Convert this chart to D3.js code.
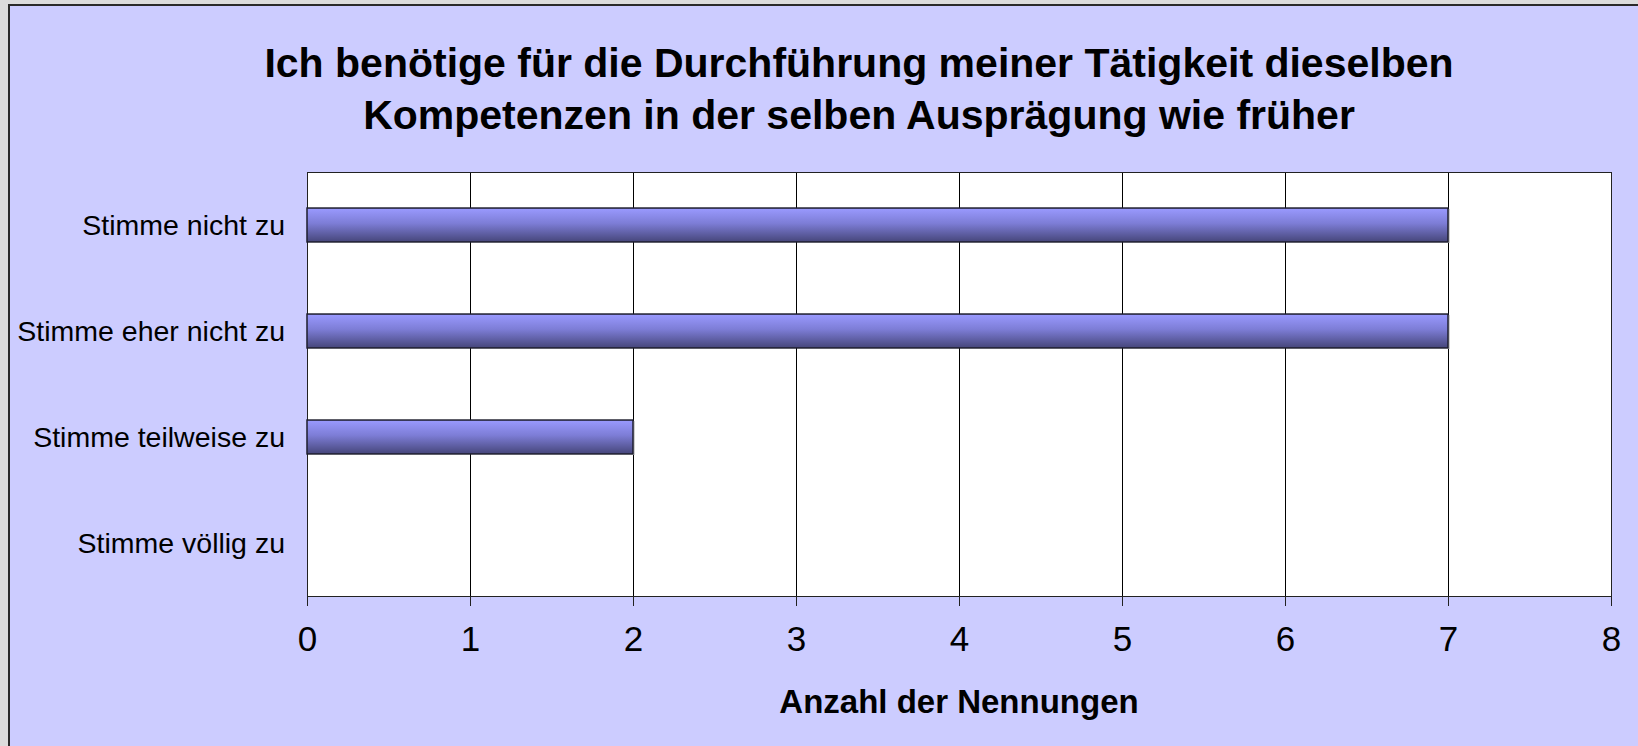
<!DOCTYPE html>
<html>
<head>
<meta charset="utf-8">
<script src="https://cdn.jsdelivr.net/npm/d3@7"></script>
<style>
  html, body { margin: 0; padding: 0; background: #dcdcdc; }
  svg { display: block; }
</style>
</head>
<body>
<div id="bars-placeholder"></div>
<script>
'use strict'

// data
const categories = ["Stimme nicht zu", "Stimme eher nicht zu", "Stimme teilweise zu", "Stimme völlig zu"]
const counts = [7, 7, 2, 0]
const xTicks = [0, 1, 2, 3, 4, 5, 6, 7, 8]
const titleLines = ["Ich benötige für die Durchführung meiner Tätigkeit dieselben",
                    "Kompetenzen in der selben Ausprägung wie früher"]
const xLabel = "Anzahl der Nennungen"

let bars = ((selector = '#bars-placeholder') => {

    ////////////////////////////////////
    //////////// svg setup /////////////
    ////////////////////////////////////

    var svgWidth = 1638
    var svgHeight = 746

    var margin = {
        left: 307,
        right: 27,
        top: 172,
        bottom: 150
    }

    const width = svgWidth - margin.left - margin.right
    const height = svgHeight - margin.top - margin.bottom

    var body = d3.select(selector)
    body.html("")

    const root = body.append('svg')
        .attr('width', svgWidth)
        .attr('height', svgHeight)
        .style('font-family', 'Arial, "Liberation Sans", sans-serif')

    // grey page behind the chart panel
    root.append('rect')
        .attr('width', svgWidth)
        .attr('height', svgHeight)
        .attr('fill', '#dcdcdc')

    // lavender chart panel
    root.append('rect')
        .attr('x', 9)
        .attr('y', 5)
        .attr('width', svgWidth + 20)
        .attr('height', svgHeight + 20)
        .attr('fill', '#ccccff')
        .attr('stroke', '#2a2a2a')
        .attr('stroke-width', 2)

    // bar gradient
    const grad = root.append('defs')
        .append('linearGradient')
        .attr('id', 'bar-grad')
        .attr('x1', 0).attr('y1', 0)
        .attr('x2', 0).attr('y2', 1)

    grad.append('stop').attr('offset', '0%').attr('stop-color', '#9a9aff')
    grad.append('stop').attr('offset', '45%').attr('stop-color', '#7d7dd6')
    grad.append('stop').attr('offset', '100%').attr('stop-color', '#46467a')

    const svg = root.append('g')
        .attr('transform', "translate(" + margin.left + "," + margin.top + ")")

    ////////////////////////////////////
    //////////////scales////////////////
    ////////////////////////////////////

    var xScale = d3.scaleLinear()
        .domain([0, 8])
        .range([0, width])

    var yScale = d3.scaleBand()
        .domain(categories)
        .range([0, height])
        .paddingInner(0.68)
        .paddingOuter(0.34)

    // plot background
    svg.append('rect')
        .attr('width', width)
        .attr('height', height)
        .attr('fill', '#ffffff')

    // vertical grid lines
    svg.append('g')
        .attr('id', 'grid')
        .selectAll('line')
        .data(xTicks.slice(1, -1))
        .enter()
        .append('line')
        .attr('x1', d => Math.round(xScale(d)) + 0.5)
        .attr('x2', d => Math.round(xScale(d)) + 0.5)
        .attr('y1', 0)
        .attr('y2', height)
        .attr('stroke', '#000')
        .attr('stroke-width', 1)

    // plot frame
    svg.append('rect')
        .attr('x', 0.5)
        .attr('y', 0.5)
        .attr('width', width)
        .attr('height', height)
        .attr('fill', 'none')
        .attr('stroke', '#222')
        .attr('stroke-width', 1)

    // bars
    var barGroup = svg.selectAll('.bars')
        .data(counts.map((v, i) => ({category: categories[i], value: v})).filter(d => d.value > 0))
        .enter()
        .append('g')
        .attr('class', 'bars')

    barGroup.append('rect')
        .attr('x', d => xScale(d.value))
        .attr('y', d => yScale(d.category) + 1)
        .attr('width', 2)
        .attr('height', yScale.bandwidth())
        .attr('fill', '#cfcfcf')

    barGroup.append('rect')
        .attr('x', 0)
        .attr('y', d => yScale(d.category))
        .attr('width', d => xScale(d.value))
        .attr('height', yScale.bandwidth())
        .attr('fill', 'url(#bar-grad)')
        .attr('stroke', '#1e1e2e')
        .attr('stroke-width', 1.5)

    // x-axis
    var xAxis = svg.append('g')
        .attr('id', 'x-axis')
        .attr('transform', "translate(0," + height + ")")
        .call(d3.axisBottom(xScale).tickValues(xTicks).tickSize(10).tickPadding(20).tickFormat(d3.format('d')))

    xAxis.select('.domain').attr('stroke', '#222')
    xAxis.selectAll('.tick line').attr('stroke', '#222')
    xAxis.selectAll('.tick text')
        .attr('fill', '#000')
        .style('font-size', '35px')
        .style('font-family', 'Arial, "Liberation Sans", sans-serif')

    // y-axis labels
    svg.append('g')
        .attr('id', 'y-axis')
        .selectAll('text')
        .data(categories)
        .enter()
        .append('text')
        .attr('x', -22)
        .attr('y', d => yScale(d) + yScale.bandwidth() / 2)
        .attr('dy', '0.36em')
        .attr('text-anchor', 'end')
        .style('font-size', '28.5px')
        .attr('fill', '#000')
        .text(d => d)

    // axis title
    svg.append('text')
        .attr('x', width / 2)
        .attr('y', height + 117)
        .attr('text-anchor', 'middle')
        .style('font-size', '33px')
        .style('font-weight', 'bold')
        .text(xLabel)

    // chart title
    root.append('text')
        .attr('text-anchor', 'middle')
        .style('font-size', '41px')
        .style('font-weight', 'bold')
        .selectAll('tspan')
        .data(titleLines)
        .enter()
        .append('tspan')
        .attr('x', 859)
        .attr('y', (d, i) => 77 + i * 52)
        .text(d => d)

})()
</script>
</body>
</html>
